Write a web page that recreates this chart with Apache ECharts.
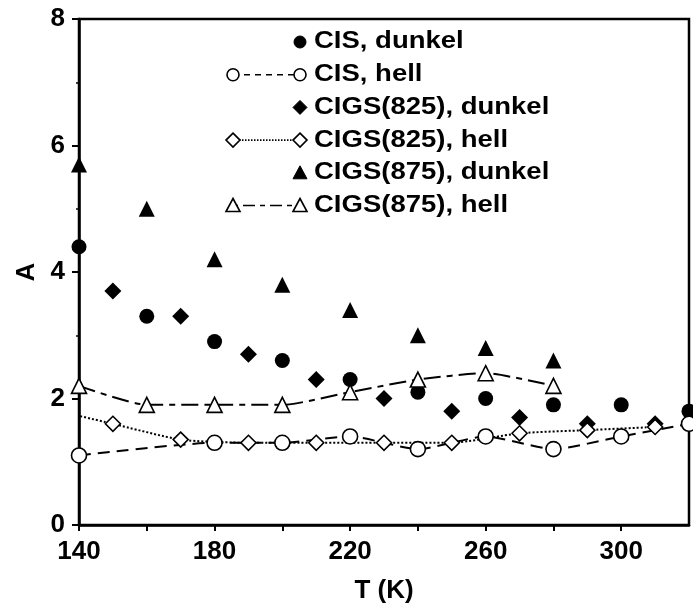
<!DOCTYPE html>
<html>
<head>
<meta charset="utf-8">
<script src="https://cdn.jsdelivr.net/npm/echarts@6/dist/echarts.min.js"></script>
<style>
  html, body { margin: 0; padding: 0; background: #fff; }
  #chart { width: 693px; height: 604px; }
</style>
</head>
<body>
<div id="chart"></div>
<script>
// Temperature (K) and parameter A for each sample / illumination state
const cisDarkT = [140, 160, 180, 200, 220, 240, 260, 280, 300, 320];
const cisDarkA = [4.4, 3.3, 2.9, 2.6, 2.3, 2.1, 2.0, 1.9, 1.9, 1.8];

const cisLightT = [140, 180, 200, 220, 240, 260, 280, 300, 320];
const cisLightA = [1.1, 1.3, 1.3, 1.4, 1.2, 1.4, 1.2, 1.4, 1.6];

const cigs825DarkT = [150, 170, 190, 210, 230, 250, 270, 290, 310];
const cigs825DarkA = [3.7, 3.3, 2.7, 2.3, 2.0, 1.8, 1.7, 1.6, 1.6];

const cigs825LightT = [130, 150, 170, 190, 210, 230, 250, 270, 290, 310];
const cigs825LightA = [1.85, 1.6, 1.35, 1.3, 1.3, 1.3, 1.3, 1.45, 1.5, 1.55];

const cigs875DarkT = [140, 160, 180, 200, 220, 240, 260, 280];
const cigs875DarkA = [5.7, 5.0, 4.2, 3.8, 3.4, 3.0, 2.8, 2.6];

const cigs875LightT = [140, 160, 180, 200, 220, 240, 260, 280];
const cigs875LightA = [2.2, 1.9, 1.9, 1.9, 2.1, 2.3, 2.4, 2.2];

const xTicks = [140, 180, 220, 260, 300];
const yTicks = [0, 2, 4, 6, 8];

const xTitle = 'T (K)';
const yTitle = 'A';

const seriesNames = [
  'CIS, dunkel', 'CIS, hell',
  'CIGS(825), dunkel', 'CIGS(825), hell',
  'CIGS(875), dunkel', 'CIGS(875), hell'
];

const pairs = (t, a) => t.map((v, i) => [v, a[i]]);

const FONT = 'Liberation Sans, Arial, Helvetica, sans-serif';
const BLACK = '#000';

function darkSeries(name, t, a, symbol, size) {
  return {
    name, type: 'scatter', data: pairs(t, a),
    symbol, symbolSize: size,
    itemStyle: { color: BLACK, opacity: 1 },
    z: 2
  };
}

function lightSeries(name, t, a, symbol, size, dash) {
  return {
    name, type: 'line', data: pairs(t, a),
    symbol, symbolSize: size, showSymbol: true,
    smooth: 0.2,
    clip: true,
    lineStyle: { color: BLACK, width: 2, type: dash },
    itemStyle: { color: '#fff', borderColor: BLACK, borderWidth: 1.6 },
    z: 3
  };
}

const DASHED = [12, 7];
const DOTTED = [2, 2];
const DASHDOT = [17, 6, 6, 6];

// Legend drawn as graphic rows: icon block on the left, label on the right
const legendRows = [
  { name: seriesNames[0], symbol: 'circle', filled: true, dash: null },
  { name: seriesNames[1], symbol: 'circle', filled: false, dash: [6, 5] },
  { name: seriesNames[2], symbol: 'diamond', filled: true, dash: null },
  { name: seriesNames[3], symbol: 'diamond', filled: false, dash: [1.5, 1.5] },
  { name: seriesNames[4], symbol: 'triangle', filled: true, dash: null },
  { name: seriesNames[5], symbol: 'triangle', filled: false, dash: [5, 5, 12, 5] }
];

function legendSymbol(kind, cx, cy, filled) {
  const style = filled
    ? { fill: BLACK, stroke: BLACK, lineWidth: 1 }
    : { fill: '#fff', stroke: BLACK, lineWidth: 1.6 };
  const r = 6;
  if (kind === 'circle') {
    return { type: 'circle', shape: { cx, cy, r }, style, z: 12 };
  }
  if (kind === 'diamond') {
    return { type: 'polygon', shape: { points: [[cx, cy - 7], [cx + 7, cy], [cx, cy + 7], [cx - 7, cy]] }, style, z: 12 };
  }
  return { type: 'polygon', shape: { points: [[cx, cy - 7], [cx + 7, cy + 6], [cx - 7, cy + 6]] }, style, z: 12 };
}

const legendGraphics = [];
const rowTop = 42, rowGap = 32.7, iconL = 233, iconR = 300, textX = 314;
legendRows.forEach((row, i) => {
  const y = rowTop + i * rowGap;
  if (!row.filled) {
    legendGraphics.push({
      type: 'line', shape: { x1: iconL, y1: y, x2: iconR, y2: y },
      style: { stroke: BLACK, lineWidth: 1.6, lineDash: row.dash }, z: 11
    });
    legendGraphics.push(legendSymbol(row.symbol, iconL, y, false));
    legendGraphics.push(legendSymbol(row.symbol, iconR, y, false));
  } else {
    legendGraphics.push(legendSymbol(row.symbol, iconR, y, true));
  }
  legendGraphics.push({
    type: 'text', x: textX, y: y, scaleX: 1.17, z: 12,
    style: {
      text: row.name, x: 0, y: 0,
      font: 'bold 23.5px ' + FONT, fill: BLACK,
      textAlign: 'left', textVerticalAlign: 'middle'
    }
  });
});

const chart = echarts.init(document.getElementById('chart'), null, { renderer: 'canvas' });

chart.setOption({
  backgroundColor: '#fff',
  animation: false,
  grid: {
    left: 79, right: 4, top: 19, bottom: 79,
    containLabel: false, outerBoundsMode: 'none',
    show: true, borderColor: BLACK, borderWidth: 2.5, backgroundColor: 'transparent'
  },
  xAxis: {
    type: 'value', min: 140, max: 320, interval: 20,
    name: xTitle, nameLocation: 'middle', nameGap: 53,
    nameTextStyle: { fontFamily: FONT, fontWeight: 'bold', fontSize: 26, color: BLACK },
    axisLine: { show: true, onZero: false, lineStyle: { color: BLACK, width: 2.5 } },
    axisTick: { show: true, inside: false, length: 6, lineStyle: { color: BLACK, width: 2 } },
    axisLabel: {
      margin: 14, fontFamily: FONT, fontWeight: 'bold', fontSize: 26, color: BLACK,
      showMaxLabel: false,
      formatter: v => (xTicks.includes(v) ? String(v) : '')
    },
    splitLine: { show: false }
  },
  yAxis: {
    type: 'value', min: 0, max: 8, interval: 2,
    name: yTitle, nameLocation: 'middle', nameGap: 39,
    nameTextStyle: { fontFamily: FONT, fontWeight: 'bold', fontSize: 26, color: BLACK },
    axisLine: { show: true, lineStyle: { color: BLACK, width: 2.5 } },
    axisTick: { show: true, inside: false, length: 7, lineStyle: { color: BLACK, width: 2 } },
    minorTick: { show: true, splitNumber: 2, length: 3, lineStyle: { color: BLACK, width: 1.5 } },
    axisLabel: {
      margin: 14, fontFamily: FONT, fontWeight: 'bold', fontSize: 26, color: BLACK,
      formatter: v => (yTicks.includes(v) ? String(v) : '')
    },
    splitLine: { show: false }
  },
  graphic: legendGraphics,
  series: [
    darkSeries(seriesNames[0], cisDarkT, cisDarkA, 'circle', 15),
    lightSeries(seriesNames[1], cisLightT, cisLightA, 'circle', 15, DASHED),
    darkSeries(seriesNames[2], cigs825DarkT, cigs825DarkA, 'diamond', 17),
    lightSeries(seriesNames[3], cigs825LightT, cigs825LightA, 'diamond', 15, DOTTED),
    darkSeries(seriesNames[4], cigs875DarkT, cigs875DarkA, 'triangle', 16),
    lightSeries(seriesNames[5], cigs875LightT, cigs875LightA, 'triangle', 15, DASHDOT)
  ]
});
</script>
</body>
</html>
